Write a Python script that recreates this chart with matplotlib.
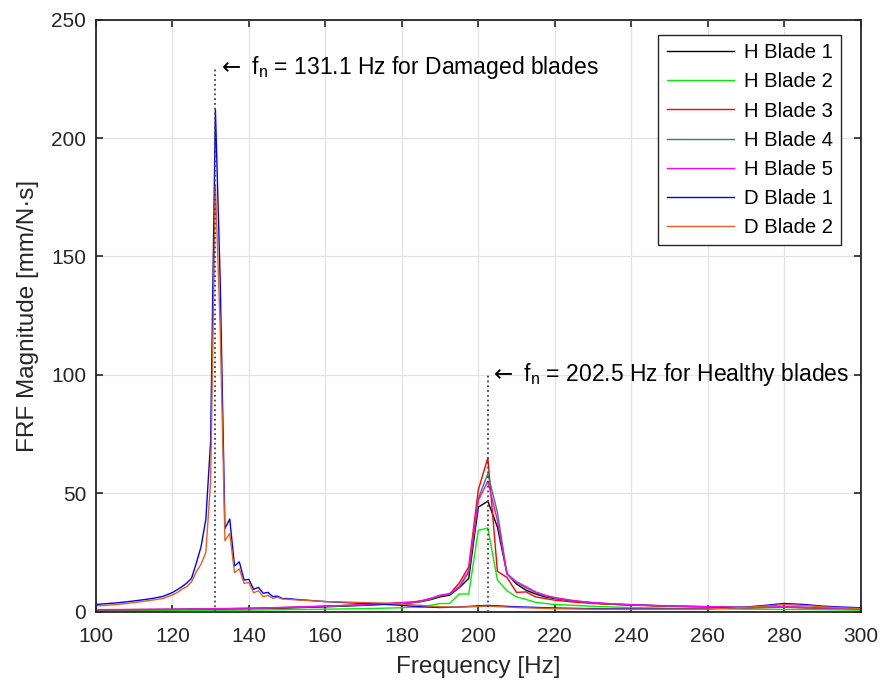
import matplotlib
matplotlib.use("Agg")
import matplotlib.pyplot as plt

plt.rcParams['font.family'] = ['Liberation Sans', 'DejaVu Sans']

# damaged blades (finer sampling around the resonance)
freq_d = [100, 102.5, 105, 107.5, 110, 112.5, 115, 117.5, 120, 121.25, 122.5, 123.75,
          125, 126.25, 127.5, 128.75, 130, 131.25, 132.5, 133.75, 135, 136.25, 137.5,
          138.75, 140, 141.25, 142.5, 143.75, 145, 146.25, 147.5, 148.75, 150, 152.5,
          155, 160, 165, 170, 175, 180, 185, 190, 195, 200, 202.5, 205, 210, 220, 230,
          240, 250, 260, 265, 270, 275, 280, 285, 290, 295, 300]
d_blade1 = [3.0, 3.3, 3.6, 4.0, 4.5, 5.0, 5.6, 6.4, 8.0, 9.2, 10.5, 12.0,
            14.0, 20.4, 27.4, 39.0, 72.0, 212.0, 140.0, 35.1, 39.1, 19.2, 21.0,
            13.3, 13.6, 9.4, 10.2, 7.7, 8.1, 6.3, 6.5, 5.5, 5.5, 5.1,
            4.8, 4.2, 3.8, 3.4, 3.1, 2.6, 2.0, 1.7, 1.9, 2.4, 2.6, 2.4, 2.0, 1.5, 1.2,
            1.1, 1.1, 1.2, 1.5, 1.9, 2.6, 3.4, 3.0, 2.3, 1.9, 1.6]
d_blade2 = [2.4, 2.6, 2.9, 3.3, 3.8, 4.3, 4.9, 5.5, 7.0, 8.0, 9.4, 10.5,
            12.5, 16.8, 20.0, 25.0, 55.0, 180.0, 120.0, 29.9, 33.0, 16.4, 18.0,
            11.9, 12.3, 7.9, 8.8, 6.3, 6.8, 5.6, 6.0, 5.3, 5.2, 4.9,
            4.7, 4.2, 4.0, 3.8, 3.6, 3.2, 2.6, 2.0, 1.9, 2.1, 2.3, 2.1, 1.7, 1.2, 1.0,
            0.9, 1.0, 1.1, 1.4, 1.8, 2.3, 2.9, 2.6, 2.0, 1.6, 1.3]

# healthy blades
freq_h = [100, 110, 120, 130, 140, 150, 160, 170, 175, 180, 182.5, 185, 187.5, 190,
          192.5, 195, 197.5, 200, 202.5, 205, 207.5, 210, 212.5, 215, 217.5, 220,
          225, 230, 235, 240, 250, 260, 270, 280, 290, 300]
h_blade1 = [0.6, 0.7, 0.8, 1.0, 1.2, 1.5, 2.0, 2.6, 3.0, 3.4, 3.7, 4.2, 5.0, 6.2,
            6.9, 10.0, 14.0, 44.1, 46.6, 35.7, 16.1, 11.6, 9.0, 7.4, 6.2, 5.5,
            4.4, 3.6, 3.1, 2.8, 2.3, 2.0, 1.6, 1.9, 1.5, 1.2]
h_blade2 = [0.3, 0.3, 0.4, 0.5, 0.6, 0.8, 1.0, 1.2, 1.4, 1.6, 1.8, 2.0, 2.6, 3.4,
            3.4, 7.4, 7.4, 34.3, 35.3, 13.3, 8.8, 6.2, 5.1, 3.9, 3.4, 3.0,
            2.6, 2.2, 1.9, 1.7, 1.4, 1.2, 1.0, 0.9, 0.8, 0.6]
h_blade3 = [0.7, 0.8, 0.9, 1.1, 1.3, 1.7, 2.2, 2.9, 3.3, 3.8, 4.0, 4.5, 5.5, 6.6,
            7.4, 12.0, 18.9, 51.4, 64.9, 17.0, 14.4, 8.1, 8.3, 6.2, 5.5, 4.8,
            4.0, 3.4, 3.0, 2.7, 2.2, 1.9, 1.6, 1.8, 1.4, 1.1]
h_blade4 = [0.7, 0.8, 0.9, 1.1, 1.3, 1.7, 2.2, 2.8, 3.1, 3.5, 3.8, 4.3, 5.2, 6.6,
            7.3, 10.2, 16.5, 47.8, 58.2, 42.0, 16.1, 12.2, 10.0, 8.0, 6.6, 5.7,
            4.5, 3.7, 3.2, 2.9, 2.3, 2.0, 1.7, 1.9, 1.5, 1.2]
h_blade5 = [0.8, 0.9, 1.0, 1.2, 1.4, 1.8, 2.3, 2.9, 3.2, 3.6, 3.9, 4.4, 5.5, 6.9,
            7.6, 10.5, 17.2, 46.9, 55.1, 38.5, 15.8, 12.6, 10.5, 8.3, 6.9, 5.9,
            4.6, 3.8, 3.3, 2.9, 2.4, 2.1, 1.7, 2.0, 1.6, 1.3]

fn_damaged = 131.1
fn_healthy = 202.5

fig = plt.figure(figsize=(8.8, 6.81), dpi=100)
ax = fig.add_axes([0.109, 0.102, 0.869, 0.869])

series = [
    (freq_h, h_blade1, 'H Blade 1', '#000000'),
    (freq_h, h_blade2, 'H Blade 2', '#00EE00'),
    (freq_h, h_blade3, 'H Blade 3', '#FF0000'),
    (freq_h, h_blade4, 'H Blade 4', '#2E8B57'),
    (freq_h, h_blade5, 'H Blade 5', '#FF00FF'),
    (freq_d, d_blade1, 'D Blade 1', '#0000FF'),
    (freq_d, d_blade2, 'D Blade 2', '#E0601E'),
]
for f, v, name, c in series:
    ax.plot(f, v, color=c, lw=1.0, label=name)

ax.plot([fn_damaged, fn_damaged], [0, 230], ls=':', color='#444444', lw=1.3)
ax.plot([fn_healthy, fn_healthy], [0, 100], ls=':', color='#444444', lw=1.3)
ax.text(fn_damaged + 0.5, 230, r'$\leftarrow$ f$_\mathregular{n}$ = 131.1 Hz for Damaged blades',
        fontsize=16.5, va='center', ha='left')
ax.text(fn_healthy + 0.3, 100, r'$\leftarrow$ f$_\mathregular{n}$ = 202.5 Hz for Healthy blades',
        fontsize=16.5, va='center', ha='left')

ax.set_xlim(100, 300)
ax.set_ylim(0, 250)
ax.set_xticks(range(100, 301, 20))
ax.set_yticks(range(0, 251, 50))
ax.grid(True, color='#E3E3E3', lw=0.9)
ax.set_axisbelow(True)
ax.tick_params(direction='in', top=True, right=True, labelsize=15, colors='#262626',
               length=5, width=1.2)
ax.tick_params(axis='y', pad=7)
ax.tick_params(axis='x', pad=11)
for s in ax.spines.values():
    s.set_color('#262626')
    s.set_linewidth(1.3)
ax.set_xlabel('Frequency [Hz]', fontsize=17.5, color='#262626', labelpad=7)
ax.set_ylabel('FRF Magnitude [mm/N·s]', fontsize=17.5, color='#262626', labelpad=9)

leg = ax.legend(loc='upper right', bbox_to_anchor=(0.974, 0.974), fontsize=14.6,
                handlelength=3.3, labelspacing=0.5, borderpad=0.4, handletextpad=0.5,
                borderaxespad=0, fancybox=False, framealpha=1, edgecolor='#262626')
leg.get_frame().set_linewidth(1.0)

fig.savefig('out.png', dpi=100)
